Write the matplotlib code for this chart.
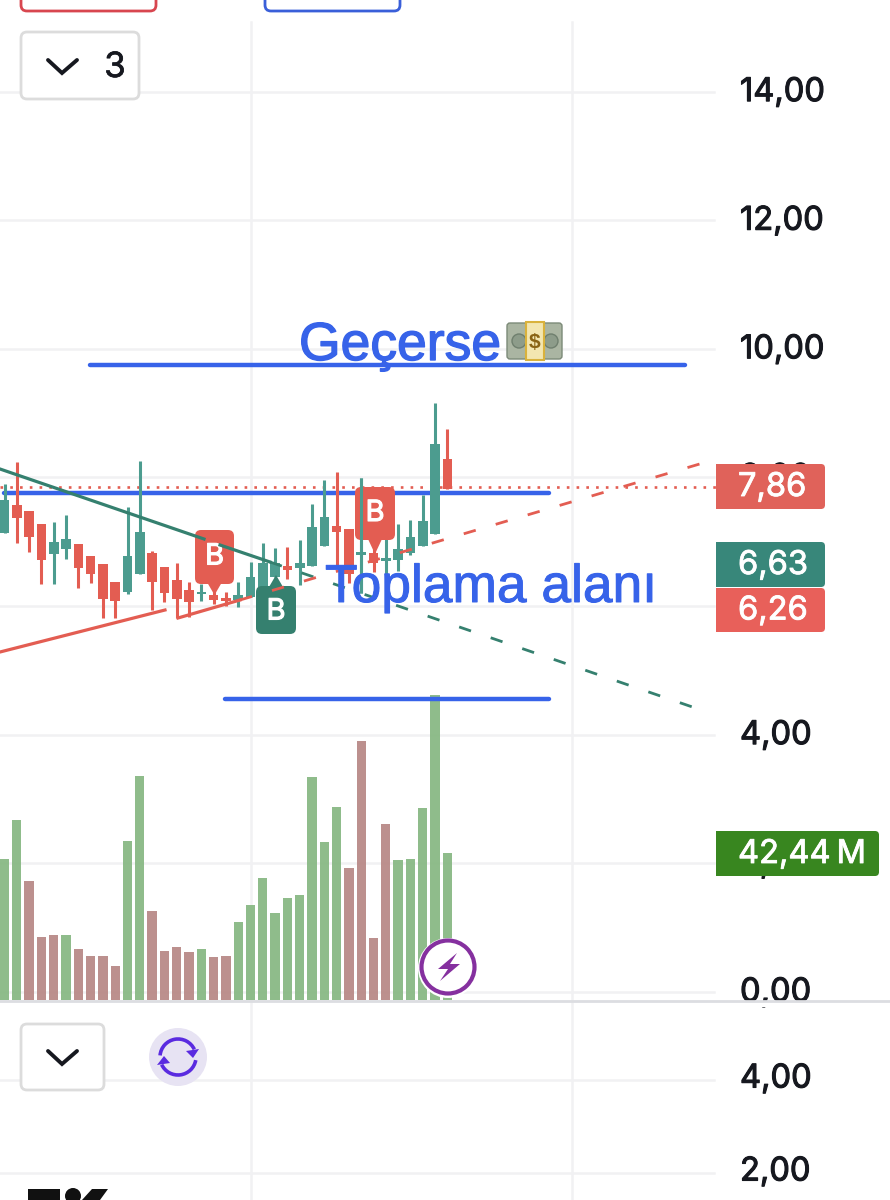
import matplotlib
matplotlib.use('Agg')
import matplotlib.pyplot as plt
import matplotlib.patheffects as pe
from matplotlib.patches import FancyBboxPatch, Rectangle, Circle, Polygon, Arc
from matplotlib.transforms import Affine2D

# candles
opens = [7.14,7.57,7.48,7.28,6.81,6.89,6.96,6.78,6.65,6.37,6.22,6.50,6.82,6.61,6.40,6.25,6.19,6.17,6.12,
         6.09,6.14,6.30,6.45,6.62,6.59,6.62,6.93,7.24,7.20,6.79,6.82,6.70,6.72,6.82,6.93,7.12,8.29]
closes = [7.65,7.37,7.07,6.72,7.00,7.04,6.59,6.50,6.11,6.08,6.78,7.15,6.37,6.20,6.11,6.06,6.21,6.09,6.08,
          6.17,6.45,6.67,6.67,6.56,6.67,7.23,7.38,7.15,6.50,6.84,6.67,6.75,6.89,7.07,7.32,8.52,7.82]
highs = [7.89,8.24,7.48,7.28,7.31,7.42,6.96,6.78,6.65,6.37,7.54,8.26,6.86,6.61,6.67,6.37,6.34,6.30,6.22,
         6.37,6.68,6.98,6.90,6.92,7.03,7.59,7.96,8.08,7.20,7.99,6.98,7.20,7.28,7.34,7.73,9.16,8.75]
lows = [7.14,6.98,6.84,6.34,6.34,6.73,6.28,6.36,5.81,5.81,6.19,6.50,5.94,6.06,5.81,5.83,6.08,6.03,6.00,
        5.98,6.14,6.30,6.45,6.42,6.33,6.62,6.93,6.61,6.36,6.20,6.53,6.36,6.54,6.79,6.93,7.12,7.82]

# volume in millions, with its own colour flag (1 = green)
volumes = [40.7,52.0,34.4,18.2,18.8,18.8,14.7,12.7,12.7,9.8,45.9,64.7,25.7,14.1,15.3,13.9,14.7,12.4,12.7,
           22.5,27.4,35.2,25.1,29.4,30.3,64.4,45.6,55.7,38.1,74.8,17.9,50.8,40.4,40.7,55.4,88.1,42.44]
vol_up = [1,1,0,0,0,1,0,0,0,0,1,1,0,0,0,0,1,0,0,1,1,1,1,1,1,1,1,1,0,0,0,0,1,1,1,1,1]

price_ticks = [14, 12, 10, 8, 6, 4, 2, 0]
price_labels = ['14,00', '12,00', '10,00', '8,00', '6,00', '4,00', '2,00', '0,00']
lower_labels = ['4,00', '2,00']

last_labels = ['7,86', '6,63', '6,26']

GREEN = '#4c9c8f'
RED = '#e35d52'
FLAG_GREEN = '#35806f'
BLUE = '#3763e9'
VOL_G = '#8bba87'
VOL_R = '#ba8c8a'
GRID = '#f1f1f3'
INK = '#16181f'

plt.rcParams['font.family'] = ['Inter', 'Liberation Sans', 'DejaVu Sans']

fig = plt.figure(figsize=(8.9, 12), dpi=100)
pix = Affine2D().scale(1, -1).translate(0, 1200)


def heavy(color, w=0.8):
    return [pe.withStroke(linewidth=w, foreground=color)]


bg = fig.add_axes([0, 0, 1, 1], zorder=0)
vol = fig.add_axes([0, 0, 1, 1], zorder=1)
ax = fig.add_axes([0, 0, 1, 1], zorder=2)
for a in (bg, vol, ax):
    a.set_axis_off()
    a.patch.set_alpha(0)
    a.set_xlim(-0.366, 71.99)
for a in (bg, ax):
    a.set_ylim(-3.238, 15.424)
vol.set_ylim(-57.7, 288.7)

idx = list(range(len(opens)))

# grid
for p in price_ticks:
    bg.plot([-0.366, 57.7], [p, p], color=GRID, lw=1.8)
bg.plot([251, 251], [22, 1200], color=GRID, lw=1.8, transform=pix)
bg.plot([572, 572], [22, 1200], color=GRID, lw=1.8, transform=pix)
for y in (1080, 1173):
    bg.plot([0, 714], [y, y], color=GRID, lw=1.8, transform=pix)

# volume
vol.bar(idx, volumes, width=0.76, color=[VOL_G if u else VOL_R for u in vol_up], alpha=0.97)

# blue horizontal drawings
for x0, x1, y in [(90, 685, 365), (4, 549, 493), (225, 549, 699)]:
    ax.plot([x0, x1], [y, y], color=BLUE, lw=3.2, solid_capstyle='round', transform=pix, zorder=2)

# last price dotted
ax.plot([0, 716], [486.5, 486.5], color=RED, lw=1.9, ls=(0, (1, 2.7)), transform=pix, zorder=2)

# candles
for i in idx:
    c = GREEN if closes[i] >= opens[i] else RED
    ax.vlines(i, lows[i], highs[i], color=c, lw=2.2, zorder=3)
    ax.bar(i, abs(closes[i] - opens[i]), bottom=min(opens[i], closes[i]), width=0.78, color=c, zorder=3)


def flag(x0, x1, y0, y1, tip, color, up=False):
    ax.add_patch(FancyBboxPatch((x0 + 5, y0 + 5), x1 - x0 - 10, y1 - y0 - 10,
                                boxstyle='round,pad=5,rounding_size=6', fc=color, ec='none',
                                transform=pix, zorder=4, mutation_aspect=1))
    xm = (x0 + x1) / 2
    yb = y0 + 1 if up else y1 - 1
    ax.add_patch(Polygon([(xm - 7, yb), (xm + 7, yb), (xm, tip)], fc=color, ec='none',
                         transform=pix, zorder=4))
    yt = (y0 + y1) / 2 + (2 if up else 0)
    ax.text(xm, yt, 'B', color='white', fontsize=21, ha='center', va='center',
            path_effects=heavy('white'), transform=pix, zorder=5)


flag(195, 234, 530, 584, 595, RED)
flag(355, 395, 487, 540, 554, RED)
flag(256, 296, 586, 634, 575, FLAG_GREEN, up=True)

# candle poking through second flag
ax.vlines(29, 6.2, 7.99, color=GREEN, lw=2.2, zorder=5)
ax.bar(29, 0.05, bottom=6.79, width=0.78, color=GREEN, zorder=5)

# trend lines
ax.plot([0, 204], [469, 539], color=FLAG_GREEN, lw=2.3, transform=pix, zorder=6)
ax.plot([220, 270], [545, 562], color=FLAG_GREEN, lw=2.3, transform=pix, zorder=6)
ax.plot([270, 707], [562, 712], color=FLAG_GREEN, lw=2, ls=(0, (4.5, 7.5)), transform=pix, zorder=6)
ax.plot([0, 165], [652, 610], color=RED, lw=2.3, transform=pix, zorder=6)
ax.plot([178, 240], [618, 600], color=RED, lw=2.3, transform=pix, zorder=6)
ax.plot([240, 703], [600, 463], color=RED, lw=2, ls=(0, (4.5, 7.5)), transform=pix, zorder=6)

# drawing labels
ax.text(299, 360, 'Geçerse', color=BLUE, fontsize=38.5, family='Liberation Sans',
        path_effects=heavy(BLUE, 1), va='baseline', ha='left', transform=pix, zorder=7)
ax.text(325, 602, 'Toplama alanı', color=BLUE, fontsize=38.4, family='Liberation Sans',
        path_effects=heavy(BLUE, 0.7), va='baseline', ha='left', transform=pix, zorder=7)

# banknote glyph drawn by hand, no emoji font here
ax.add_patch(FancyBboxPatch((507, 323), 55, 36, boxstyle='round,pad=0,rounding_size=3', fc='#aab5a2',
                            ec='#7c8a78', lw=1, transform=pix, zorder=7))
ax.add_patch(Circle((519, 341), 7, fc='#8d9c8a', ec='#6f7f6e', transform=pix, zorder=7))
ax.add_patch(Circle((551, 341), 7, fc='#8d9c8a', ec='#6f7f6e', transform=pix, zorder=7))
ax.add_patch(Rectangle((526, 322), 18, 38, fc='#f3e6b0', ec='#d9b23c', lw=1.5, transform=pix, zorder=7))
ax.text(535, 342, '$', color='#8a6414', fontsize=15, fontweight='bold', ha='center', va='center',
        family='Liberation Sans', transform=pix, zorder=8)

# right axis
for p, s in zip(price_ticks, price_labels):
    ax.text(740, 607 - (p - 6) * 64.3, s, color=INK, fontsize=23.5, path_effects=heavy(INK),
            va='center', ha='left', transform=pix, zorder=8)
ax.add_patch(Rectangle((700, 1001), 190, 6, fc='white', ec='none', transform=pix, zorder=8.5))
for y, s in zip((1079, 1172), lower_labels):
    ax.text(740, y, s, color=INK, fontsize=23.5, path_effects=heavy(INK), va='center', ha='left',
            transform=pix, zorder=8)
ax.plot([0, 890], [1001, 1001], color='#dcdde1', lw=2, transform=pix, zorder=9)


def price_tag(x1, y0, y1, s, color):
    ax.add_patch(FancyBboxPatch((720, y0 + 4), x1 - 724, y1 - y0 - 8, boxstyle='round,pad=4,rounding_size=4',
                                fc=color, ec='none', transform=pix, zorder=9))
    ax.add_patch(Rectangle((716, y0), 8, y1 - y0, fc=color, ec='none', transform=pix, zorder=9))
    ax.text(738, (y0 + y1) / 2 + 1, s, color='white', fontsize=23.5, path_effects=heavy('white', 0.6),
            va='center', ha='left', transform=pix, zorder=10)


price_tag(825, 464, 509, last_labels[0], '#e0625a')
price_tag(825, 542, 587, last_labels[1], '#38877a')
price_tag(825, 588, 632, last_labels[2], '#e8605a')
price_tag(879, 831, 876, '42,44\u2009M', '#38861f')


def button(x0, y0, x1, y1, edge='#dcdcdc', lw=2):
    ax.add_patch(FancyBboxPatch((x0 + 6, y0 + 6), x1 - x0 - 12, y1 - y0 - 12, boxstyle='round,pad=6,rounding_size=6',
                                fc='white', ec=edge, lw=lw, transform=pix, zorder=9))


def chevron(y):
    ax.plot([48, 62, 77], [y, y + 13, y], color=INK, lw=2.8, solid_capstyle='round', solid_joinstyle='miter',
            transform=pix, zorder=10)


button(21, -30, 156, 11, '#d8464f')
button(265, -30, 400, 11, '#3a5fd9')
button(21, 32, 139, 99)
chevron(60)
ax.text(115, 68, '3', color=INK, fontsize=25, path_effects=heavy(INK, 0.5), ha='center', va='center',
        transform=pix, zorder=10)
button(21, 1024, 104, 1090)
chevron(1051)

# sync icon
ax.add_patch(Circle((178, 1057), 29, fc='#e7e3f3', ec='none', transform=pix, zorder=9))
ax.add_patch(Arc((178, 1057), 36, 36, theta1=185, theta2=335, ec='#5a2be0', lw=2.6, transform=pix, zorder=10))
ax.add_patch(Arc((178, 1057), 36, 36, theta1=10, theta2=155, ec='#5a2be0', lw=2.6, transform=pix, zorder=10))
ax.add_patch(Polygon([(186, 1051), (199, 1049), (193, 1058)], fc='#5a2be0', transform=pix, zorder=10))
ax.add_patch(Polygon([(157, 1065), (170, 1063), (164, 1056)], fc='#5a2be0', transform=pix, zorder=10))

# lightning badge
ax.add_patch(Circle((448, 968), 30, fc='white', ec='none', transform=pix, zorder=9))
ax.add_patch(Circle((448, 967), 26.5, fc='white', ec='#85309f', lw=3, transform=pix, zorder=9))
ax.add_patch(Polygon([(457, 953), (438, 969), (448, 969), (440, 981), (460, 964), (450, 964)], fc='#85309f',
                     transform=pix, zorder=10))

# logo cut off at the bottom
ax.add_patch(Polygon([(28, 1189), (60, 1189), (60, 1200), (28, 1200)], fc='#111111', transform=pix, zorder=10))
ax.add_patch(Circle((73, 1196), 8, fc='#111111', transform=pix, zorder=10))
ax.add_patch(Polygon([(92, 1189), (108, 1189), (100, 1200), (82, 1200)], fc='#111111', transform=pix, zorder=10))

ax.set_xlim(-0.366, 71.99)
ax.set_ylim(-3.238, 15.424)
fig.savefig('out.png', dpi=100, facecolor='white')
